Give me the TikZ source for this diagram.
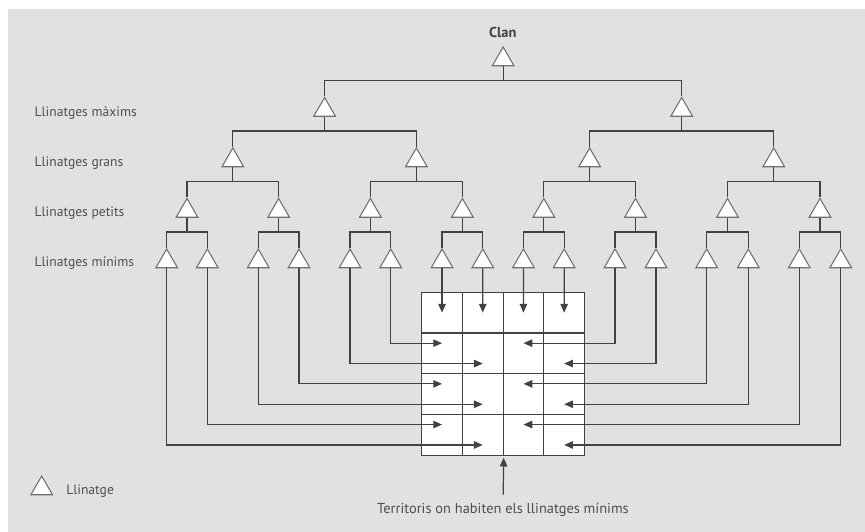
\documentclass[tikz,border=0pt]{standalone}
\usepackage{fontspec}
\setmainfont{PT Sans}
\usetikzlibrary{shapes.geometric,arrows.meta,calc}
\definecolor{fons}{RGB}{224,225,226}
\definecolor{linia}{RGB}{66,66,66}
\definecolor{vora}{RGB}{112,112,112}
\definecolor{lletra}{RGB}{78,78,78}

\begin{document}
\begin{tikzpicture}[
    x=0.75pt, y=-0.75pt,
    llin/.style={regular polygon, regular polygon sides=3, draw=vora, fill=white, minimum size=18.75pt, inner sep=0pt, line width=0.8pt},
    branca/.style={draw=linia, line width=0.9pt},
    arrow/.style={-{Triangle[length=6.6pt,width=5.6pt]}, draw=linia, line width=0.9pt},
    cella/.style={rectangle, draw=linia, fill=white, minimum size=30.525pt, inner sep=0pt, line width=0.9pt},
    nivell/.style={text=lletra, anchor=west, font=\fontsize{10.2}{12}\selectfont}
]

\useasboundingbox (0,0) rectangle (865,532);
\fill[white] (0,0) rectangle (865,532);
\fill[fons] (8,9) rectangle (865,532);

% Llinatges minims
\foreach \x [count=\i] in {166.7,207.3,258.3,299,350,390.7,442.05,482.75,523.45,564.15,615,656,706.7,748.3,799.3,840.7}
    \node[llin] (min\i) at (\x,261.5) {};

% Nivells superiors
\foreach \fill/\pare/\n in {pet/min/8, gra/pet/4, max/gra/2, clan/max/1} {
  \foreach \i in {1,...,\n} {
    \pgfmathtruncatemacro\a{2*\i-1}
    \pgfmathtruncatemacro\b{2*\i}
    \node[llin] (\fill\i) at ($(\pare\a)!.5!(\pare\b)+(0,-50.5)$) {};
    \draw[branca] (\pare\a.north) |- ($(\fill\i)+(0,21)$) -| (\pare\b.north);
    \draw[branca] (\fill\i.south) -- ($(\fill\i)+(0,21)$);
  }
}

\node[font=\fontsize{10.8}{13}\selectfont\bfseries, text=linia] (tclan) at (502.8,32.7) {Clan};

% Etiquetes
\node[nivell] (lmax) at (30,112.7) {Llinatges màxims};
\node[nivell] (lgra) at (30,163.3) {Llinatges grans};
\node[nivell] (lpet) at (30,213.3) {Llinatges petits};
\node[nivell] (lmin) at (30,263.3) {Llinatges mínims};

% Territoris
\foreach \r in {1,...,4}
  \foreach \c in {1,...,4}
    \node[cella] (cel\r\c) at (421.7+40.7*\c-20.35, 292.3+40.7*\r-20.35) {};

\foreach \m/\c in {7/1, 8/2, 9/3, 10/4}
    \draw[arrow] (min\m.south) -- (cel1\c.center);
\foreach \m/\r/\c/\d in {6/2/1/-10.2, 5/2/2/10.2, 4/3/1/-10.2, 3/3/2/10.2, 2/4/1/-10.2, 1/4/2/10.2,
                         11/2/3/-10.2, 12/2/4/10.2, 13/3/3/-10.2, 14/3/4/10.2, 15/4/3/-10.2, 16/4/4/10.2}
    \draw[arrow] (min\m.south) |- ($(cel\r\c.center)+(0,\d)$);

\node[text=lletra, font=\fontsize{10.8}{13}\selectfont] (terr) at (503,510) {Territoris on habiten els llinatges mínims};
\draw[arrow, shorten <=3pt, shorten >=1.5pt] (terr) -- (cel42.south east);

% Llegenda
\node[llin] (lleg) at (41.7,488.5) {};
\node[nivell] (tlleg) at (61.7,490.7) {Llinatge};

\end{tikzpicture}
\end{document}
